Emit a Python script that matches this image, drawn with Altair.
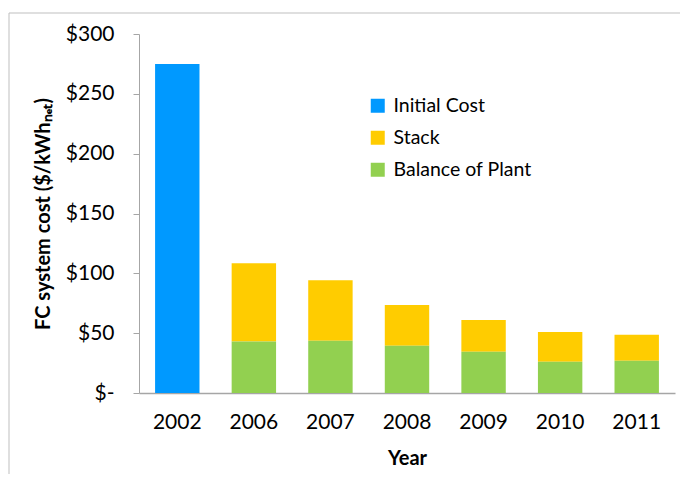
import altair as alt
import pandas as pd

years = ["2002", "2006", "2007", "2008", "2009", "2010", "2011"]
initial_cost = [275, None, None, None, None, None, None]
stack = [None, 65.5, 50.5, 34.0, 26.5, 24.8, 21.7]
balance_of_plant = [None, 43.0, 43.7, 39.5, 34.5, 26.2, 27.0]

series_names = ["Initial Cost", "Stack", "Balance of Plant"]
series_colors = ["#0099FF", "#FFCC00", "#92D050"]
stack_order = {"Balance of Plant": 0, "Stack": 1, "Initial Cost": 2}

rows = []
for name, vals in zip(series_names, [initial_cost, stack, balance_of_plant]):
    for y, v in zip(years, vals):
        if v is not None:
            rows.append({"Year": y, "Series": name, "Cost": v, "ord": stack_order[name]})
df = pd.DataFrame(rows)

FONT = "Lato"

bars = alt.Chart(df).mark_bar().encode(
    x=alt.X("Year:N", sort=years,
            scale=alt.Scale(paddingInner=0.42, paddingOuter=0.21),
            axis=alt.Axis(title="Year", labelAngle=0, ticks=False,
                          labelFontSize=21, labelPadding=18,
                          titleFontSize=20, titleFontWeight="bold",
                          titlePadding=16, domainColor="#A6A6A6",
                          domainWidth=1.5)),
    y=alt.Y("Cost:Q", stack="zero",
            scale=alt.Scale(domain=[0, 300], nice=False),
            axis=alt.Axis(title="FC system cost ($/kWhₙₑₜ)", values=[0, 50, 100, 150, 200, 250, 300],
                          labelExpr="datum.value == 0 ? '$-\u00a0\u00a0\u00a0\u00a0' : '$' + datum.value",
                          labelFontSize=21, labelPadding=19, tickSize=6,
                          tickColor="#A6A6A6", domainColor="#A6A6A6",
                          titleFontSize=20, titleFontWeight="bold",
                          titlePadding=12, grid=False)),
    color=alt.Color("Series:N",
                    scale=alt.Scale(domain=series_names, range=series_colors),
                    legend=alt.Legend(title=None, orient="none", legendX=229, legendY=62,
                                      symbolType="square", symbolSize=196,
                                      symbolStrokeWidth=0,
                                      labelFontSize=19.5, labelOffset=6,
                                      rowPadding=11, padding=0)),
    order=alt.Order("ord:Q"),
)

frame_left = alt.Chart(alt.Data(values=[{}])).mark_rule(
    stroke="#BFBFBF", strokeWidth=1
).encode(
    x=alt.value(-130), y=alt.value(-21), y2=alt.value(460)
)
frame_top = alt.Chart(alt.Data(values=[{}])).mark_rule(
    stroke="#BFBFBF", strokeWidth=1
).encode(
    x=alt.value(-130), x2=alt.value(560), y=alt.value(-21)
)

chart = alt.layer(frame_left, frame_top, bars).properties(
    width=536, height=359,
    autosize=alt.AutoSizeParams(type="none"),
    padding={"left": 131, "top": 26, "right": 5, "bottom": 81},
).configure(
    font=FONT,
).configure_view(
    stroke=None
).configure_axis(
    labelColor="#000000", titleColor="#000000", labelFont=FONT, titleFont=FONT
).configure_legend(
    labelFont=FONT, labelColor="#000000"
)

chart.save("out.html", embed_options={"renderer": "svg", "actions": False})
